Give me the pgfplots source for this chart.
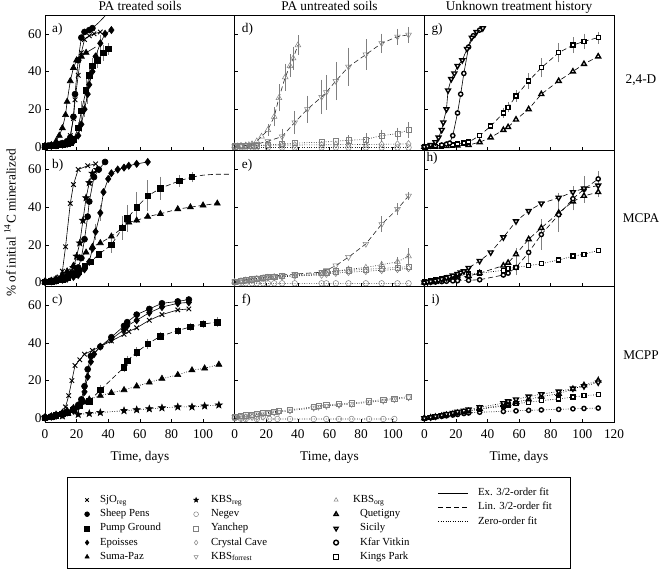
\documentclass[border=0pt]{standalone}
\usepackage{fontspec}
\setmainfont{Liberation Serif}
\usepackage{pgfplots}
\pgfplotsset{compat=1.18}
\newcommand\fs{\fontsize{13.3}{16}\selectfont}
\pgfdeclareplotmark{fstar}{%
  \pgfpathmoveto{\pgfpointpolar{90}{\pgfplotmarksize}}%
  \pgfpathlineto{\pgfpointpolar{126}{0.42\pgfplotmarksize}}%
  \pgfpathlineto{\pgfpointpolar{162}{\pgfplotmarksize}}%
  \pgfpathlineto{\pgfpointpolar{198}{0.42\pgfplotmarksize}}%
  \pgfpathlineto{\pgfpointpolar{234}{\pgfplotmarksize}}%
  \pgfpathlineto{\pgfpointpolar{270}{0.42\pgfplotmarksize}}%
  \pgfpathlineto{\pgfpointpolar{306}{\pgfplotmarksize}}%
  \pgfpathlineto{\pgfpointpolar{342}{0.42\pgfplotmarksize}}%
  \pgfpathlineto{\pgfpointpolar{18}{\pgfplotmarksize}}%
  \pgfpathlineto{\pgfpointpolar{54}{0.42\pgfplotmarksize}}%
  \pgfpathclose\pgfusepathqfillstroke}
\tikzset{
 base/.style={black, line width=0.6pt},
 msjo/.style={black, line width=0.6pt, mark=x, mark size=3.2pt, mark options={solid, line width=0.9pt}},
 msheep/.style={black, line width=0.6pt, mark=*, mark size=3pt, mark options={solid}},
 mpump/.style={black, line width=0.6pt, mark=square*, mark size=2.7pt, mark options={solid}},
 mepo/.style={black, line width=0.6pt, mark=diamond*, mark size=3.6pt, mark options={solid}},
 msuma/.style={black, line width=0.6pt, mark=triangle*, mark size=3.5pt, mark options={solid}},
 mkbsreg/.style={black, line width=0.6pt, mark=fstar, mark size=3.6pt, mark options={solid}},
 mnegev/.style={black!85, line width=0.6pt, mark=o, mark size=2.8pt, mark options={solid, draw=gray, fill=white, line width=0.5pt}},
 myan/.style={black!85, line width=0.6pt, mark=square, mark size=2.6pt, mark options={solid, draw=gray, fill=white, line width=0.5pt}},
 mcry/.style={black!85, line width=0.6pt, mark=diamond, mark size=3.4pt, mark options={solid, draw=gray, fill=white, line width=0.5pt}},
 mkbsf/.style={black!85, line width=0.6pt, mark=triangle, mark size=3.3pt, mark options={solid, rotate=180, draw=gray, fill=white, line width=0.5pt}},
 mkbso/.style={black!85, line width=0.6pt, mark=triangle, mark size=3.3pt, mark options={solid, draw=gray, fill=white, line width=0.5pt}},
 mquet/.style={black, line width=0.6pt, mark=triangle*, mark size=2.8pt, mark options={solid, draw=black, fill=white, line width=1.4pt}},
 msic/.style={black, line width=0.6pt, mark=triangle*, mark size=2.8pt, mark options={solid, rotate=180, draw=black, fill=white, line width=1.4pt}},
 mkfar/.style={black, line width=0.6pt, mark=*, mark size=2.1pt, mark options={solid, draw=black, fill=white, line width=1.4pt}},
 mkings/.style={black, line width=0.6pt, mark=square*, mark size=2.0pt, mark options={solid, draw=black, fill=white, line width=1.4pt}},
 ex/.style={solid},
 lin/.style={dash pattern=on 5pt off 3pt},
 zer/.style={dash pattern=on 0.8pt off 1.6pt},
}
\pgfplotsset{
 panel/.style={scale only axis, width=189.67pt, height=135.67pt, anchor=south west,
   xmin=0, xmax=120, ymin=-2, ymax=70, xtick={0,20,...,120}, ytick={0,20,40,60},
   xticklabels={}, yticklabels={}, tick align=inside, tick pos=left,
   major tick length=3.5pt, axis line style={line width=1pt},
   every tick/.style={black, line width=0.6pt}, clip=false,
   /pgf/number format/assume math mode=true,
   tick label style={font=\fs}, xticklabel style={yshift=-4pt}},
 eb/.style={error bars/y dir=both, error bars/y explicit,
   error bars/error bar style={gray, line width=0.5pt, solid},
   error bars/error mark options={gray, line width=0.5pt, mark size=2.2pt, solid}},
 leg/.style={hide axis, scale only axis, width=1pt, height=1pt, anchor=south west,
   xmin=0, xmax=1, ymin=0, ymax=1, legend cell align=left,
   legend style={at={(axis description cs:0,0)}, anchor=north west, draw=none, fill=none,
     inner sep=0pt, outer sep=0pt, row sep=0pt, font=\fontsize{10.8}{13}\selectfont,
     nodes={inner xsep=1.5pt, inner ysep=1.6pt, text height=8pt, text depth=3pt}},
   legend image code/.code={\draw[##1, mark size=2.4pt] plot coordinates {(0pt,0pt)};}},
}
\newcommand\plab[1]{\node[anchor=north west, inner sep=0pt, font=\fs, xshift=7pt, yshift=-8pt] at (rel axis cs:0,1) {#1};}
\begin{document}
\begin{tikzpicture}
\useasboundingbox (0,0) rectangle (660pt,570pt);
% ---------------- a)
\begin{axis}[panel, at={(45pt,419.33pt)}, yticklabels={0,20,40,60}]
\plab{a)}
\addplot[base, mark=none] coordinates {(30,63)(34,66)(38,69.5)};
\addplot[base, mark=none] coordinates {(26,50)(32,53)};
\addplot[mpump, ex, eb] coordinates {(0,0.3)(4,0.5)(7,0.8)(11,1.2)(14,1.6)(16,2.5)(18,4)(21,10)+-(0,2)(23,19)+-(0,4)(26,30)+-(0,5)(28,38)+-(0,4)(30,43)+-(0,3)(33,46)+-(0,3)(37,50)+-(0,3)(40,52)+-(0,2)};
\addplot[mepo, ex, eb] coordinates {(0,0.3)(4,0.5)(7,0.8)(11,1.2)(14,1.6)(16,2)(18,3)(21,6)(23,12)+-(0,3)(25,20)+-(0,3)(27,28)+-(0,4)(28,33)(30,40)+-(0,3)(32,48)(35,55)+-(0,3)(38,60)(42,62)};
\addplot[msuma, ex] coordinates {(0,0.5)(4,1)(7,3)(9,6)(11,10)(13,17)(14,24)(16,35)(18,42)(20,46)(23,48)(26,50)};
\addplot[msjo, ex] coordinates {(0,0.5)(2,0.7)(4,1)(7,1.3)(9,1.6)(11,2)(14,3)(16,6)(18,15)(19,25)(21,38)(23,50)(25,57)(28,59)(31,60)(35,61)};
\addplot[msheep, ex] coordinates {(0,0.5)(2,0.7)(4,0.9)(7,1.2)(9,1.5)(11,2)(14,3)(16,5)(18,16)(19,28)(21,46)(23,58)(25,61)(28,62)(30,63)};
\end{axis}
% ---------------- b)
\begin{axis}[panel, at={(45pt,283.67pt)}, yticklabels={0,20,40,60}]
\plab{b)}
\addplot[base, lin, mark=none] coordinates {(93,56)(100,57)(108,57.5)(117,57.5)};
\addplot[mpump, lin, eb] coordinates {(0,0.3)(4,0.6)(7,1)(11,1.8)(14,2.5)(18,4)(21,6)(25,9)(29,11)(34,15)(42,20)+-(0,3)(49,29)+-(0,5)(52,34)+-(0,6)(58,40)+-(0,7)(65,46)+-(0,7)(73,50)+-(0,5)(85,54)+-(0,2)(93,56)+-(0,1.5)};
\addplot[msuma, lin] coordinates {(0,0.5)(4,1)(7,2)(11,4)(14,6)(18,9)(22,13)(26,16)(30,19)(35,21)(42,24.5)(49,29)(53,32)(58,33)(65,35)(73,36.5)(84,39)(92,40)(100,41)(109,42)};
\addplot[mepo, ex, eb] coordinates {(0,0.3)(4,0.6)(7,1)(11,1.5)(14,2)(18,3)(21,4)(25,7)(28,11)(30,18)(32,27)+-(0,3)(35,37)+-(0,3)(37,48)(40,55)(42,58)(46,60)(50,61)(53,62)(58,63)(65,64)};
\addplot[mkbsreg, ex] coordinates {(0,0.5)(7,1.5)(11,2.5)(14,3.5)(16,5)(18,8)(20,14)(22,21)(24,33)(26,45)(28,53)(30,58)(33,60)};
\addplot[msheep, ex] coordinates {(0,0.5)(4,1)(7,1.5)(11,2.5)(14,3.5)(18,5)(21,8)(23,13)(25,23)(27,35)(28,43)(31,56)(34,60)(38,64)};
\addplot[msjo, ex] coordinates {(0,0.5)(2,0.8)(4,1.2)(7,2)(9,3)(11,6)(13,19)(16,42)(18,52)(21,60)(27,62)(32,63)};
\end{axis}
% ---------------- c)
\begin{axis}[panel, at={(45pt,148pt)}, yticklabels={0,20,40,60}, xticklabels={0,20,40,60,80,100,{}}]
\plab{c)}
\addplot[mkbsreg, zer] coordinates {(0,0.5)(4,0.8)(11,1.2)(21,2)(28,2.5)(35,3)(50,4)(58,4.5)(66,5)(74,5.5)(84,6)(93,6)(101,6.5)(110,7)};
\addplot[msuma, zer] coordinates {(0,0.5)(4,1)(7,2)(11,3)(14,4)(18,5.5)(21,7)(25,8.5)(28,10)(35,12)(42,13.5)(50,15)(58,17)(66,19)(74,21)(84,23)(93,25.5)(101,26.5)(110,28.5)};
\addplot[mpump, lin, eb] coordinates {(0,0.3)(4,0.8)(7,1.5)(11,2.5)(14,3)(18,4.5)(22,6.5)(28,9)(35,15)+-(0,1.5)(50,27)+-(0,1.5)(52,30.5)+-(0,1.5)(58,35)+-(0,1.5)(65,39.5)+-(0,1.5)(73,43.5)+-(0,1)(84,46.5)+-(0,1)(92,48.5)+-(0,1)(100,50)+-(0,1)(109,51)+-(0,1.5)};
\addplot[mepo, ex] coordinates {(0,0.3)(4,0.8)(7,1.3)(11,2)(14,3)(18,4)(21,6)(23,8)(25,14)(27,22)(29,30)(31,34)(35,38)(42,42)(50,47)(52,49)(58,52)(66,56)(74,59)(84,61)(91,61.5)};
\addplot[msheep, ex] coordinates {(0,0.5)(4,1)(7,1.5)(11,2.5)(14,3.5)(18,5)(21,7)(23,10)(25,17)(27,26)(29,33)(35,38)(42,43)(50,49)(52,51)(58,55)(66,58)(74,61)(84,62)(91,63)};
\addplot[msjo, ex] coordinates {(0,0.5)(2,0.8)(4,1)(7,1.5)(9,2)(11,2.5)(13,6)(15,12)(17,20)(19,28)(22,31)(25,34)(30,36)(42,41)(50,44.5)(53,46)(58,48)(66,52)(74,55)(84,57.5)(91,58)};
\end{axis}
% ---------------- d)
\begin{axis}[panel, at={(234.67pt,419.33pt)}]
\plab{d)}
\addplot[mnegev, zer] coordinates {(0,-0.3)(4,-0.3)(7,-0.3)(11,-0.3)(14,-0.3)(21,-0.3)(30,-0.3)(38,-0.3)(55,-0.3)(64,-0.3)(72,-0.3)(83,-0.3)(93,-0.3)(103,-0.3)(110,-0.3)};
\addplot[mcry, zer] coordinates {(0,0.3)(4,0.5)(7,0.6)(11,0.7)(14,0.8)(21,0.9)(30,1)(38,1)(55,1.1)(64,1.2)(72,1.2)(83,1.3)(93,1.4)(103,1.5)(110,1.6)};
\addplot[myan, zer, eb] coordinates {(0,0.3)(4,0.5)(7,0.6)(11,0.7)(14,0.8)(21,1)(30,1.5)(38,2)(55,2.5)(64,3)(72,3.5)+-(0,1.5)(83,4)+-(0,2)(93,6)+-(0,2)(103,7)+-(0,2)(110,9)+-(0,3)};
\addplot[mkbsf, lin, eb] coordinates {(0,0.3)(4,0.5)(7,0.8)(11,1)(14,1.5)(21,3)(30,5.5)+-(0,3)(38,13)+-(0,5)(46,20)+-(0,6)(55,26.5)+-(0,8)(58,29)+-(0,8)(64,35)+-(0,9)(72,42.5)+-(0,9)(83,49)+-(0,7)(93,55)+-(0,4)(103,58.5)+-(0,3)(110,59.5)+-(0,3)};
\addplot[mkbso, lin, eb] coordinates {(0,0.3)(2,0.4)(4,0.5)(7,0.8)(9,1)(11,1.5)(14,3)(17,5.5)(21,9)+-(0,2)(25,16)+-(0,4)(28,26)+-(0,6)(32,37)+-(0,6)(35,43)+-(0,5)(37,47)+-(0,5)(40,54)+-(0,4)};
\end{axis}
% ---------------- e)
\begin{axis}[panel, at={(234.67pt,283.67pt)}]
\plab{e)}
\addplot[mnegev, zer] coordinates {(0,0)(4,-0.3)(7,-0.4)(11,-0.4)(14,-0.4)(18,-0.4)(21,-0.4)(25,-0.4)(30,-0.4)(38,-0.4)(55,-0.4)(58,-0.4)(64,-0.4)(72,-0.4)(83,-0.4)(93,-0.4)(103,-0.4)(110,-0.4)};
\addplot[mcry, zer] coordinates {(0,0.3)(4,0.7)(7,1)(11,1.4)(14,1.8)(18,2.2)(21,2.5)(25,2.8)(30,3)(38,3.5)(55,4)(58,4.5)(64,5)(72,5.5)(83,6)(93,6.5)(103,7)(110,7.5)};
\addplot[myan, zer] coordinates {(0,0.3)(4,0.8)(7,1.3)(11,1.8)(14,2.2)(18,2.6)(21,2.9)(25,3.2)(30,3.5)(38,4)(55,5)(58,5.5)(64,6)(72,6.5)(83,7)(93,7.5)(103,8)(110,8.5)};
\addplot[mkbso, zer, eb] coordinates {(0,0.3)(4,0.8)(7,1.2)(11,1.6)(14,2)(18,2.4)(21,2.7)(25,3)(30,3.2)(38,3.5)(55,4.5)(58,5)(64,6)(72,7)(83,8)(93,9.5)+-(0,1)(103,11)+-(0,1.5)(110,14)+-(0,3)};
\addplot[mkbsf, lin, eb] coordinates {(0,0.5)(4,1)(7,1.5)(11,2)(14,2.5)(18,3)(21,3.5)(25,3.5)(30,4)(38,4.5)(55,5.5)(58,6.5)(64,9)(72,13.5)(83,20.5)(93,31)+-(0,3)(103,39)+-(0,2)(110,46)+-(0,1)};
\end{axis}
% ---------------- f)
\begin{axis}[panel, at={(234.67pt,148pt)}, xticklabels={0,20,40,60,80,100,{}}]
\plab{f)}
\addplot[mnegev, zer] coordinates {(0,0)(4,-0.3)(7,-0.4)(14,-0.4)(22,-0.4)(27,-0.4)(35,-0.4)(50,-0.4)(58,-0.4)(66,-0.4)(74,-0.4)(85,-0.4)(94,-0.4)(101,-0.4)};
\addplot[mcry, zer] coordinates {(0,0.3)(4,0.4)(7,0.5)(11,0.6)(14,0.6)(18,0.7)};
\addplot[mkbsf, zer] coordinates {(0,0.5)(4,1)(7,1.3)(11,1.7)(14,2)(18,2.3)(21,2.6)(25,3)(28,3.3)(35,4)(50,5.5)(53,6)(58,6.5)(66,7)(74,7.5)(85,8.5)(94,9.3)(101,10)(110,11)};
\addplot[myan, zer] coordinates {(0,0.8)(4,1.2)(7,1.6)(11,2)(14,2.4)(18,2.7)(21,3)(25,3.5)(28,3.8)(35,4.5)(50,6)(53,6.5)(58,7)(66,7.5)(74,8)(85,9)(94,10)(101,10.5)(110,11.5)};
\end{axis}
% ---------------- g)
\begin{axis}[panel, at={(424.33pt,419.33pt)}]
\plab{g)}
\addplot[mquet, lin] coordinates {(0,0)(7,0.2)(14,0.4)(21,0.7)(28,1)(35,2.5)(42,5)(50,9)(53,10.5)(58,14.5)(66,20)(74,28)(85,35)(94,40)(101,44)(110,48)};
\addplot[mkings, lin, eb] coordinates {(0,0)(4,0.2)(7,0.3)(11,0.5)(14,0.7)(18,1)(21,1.5)(25,2)(28,2.5)(35,6)(42,11)(50,18)+-(0,1.5)(53,21)+-(0,1.5)(58,27)+-(0,2)(66,35)+-(0,3)(74,42)+-(0,4)(85,50)+-(0,4)(94,54)+-(0,3)(101,56)+-(0,3)(110,58)+-(0,2)};
\addplot[mkfar, ex] coordinates {(0,0)(4,0.3)(7,0.5)(11,1)(14,1.5)(16,2)(18,6)(21,18)(23,28)(25,39)(28,53)(31,59)(35,62)};
\addplot[msic, ex] coordinates {(0,0)(2,0.3)(4,1)(7,2.5)(9,5)(11,9)(12,13)(14,20)(15,30)(17,36)(19,39)(21,43)(24,46)(27,52)(30,58)(33,61)(37,63)};
\end{axis}
% ---------------- h)
\begin{axis}[panel, at={(424.33pt,283.67pt)}]
\node[anchor=north west, inner sep=0pt, font=\fs, xshift=2pt, yshift=-1pt] at (rel axis cs:0,1) {h)};
\addplot[mkings, zer] coordinates {(0,0.3)(4,0.8)(7,1.3)(11,2)(14,2.5)(18,3)(21,3.5)(28,4.5)(35,5)(50,6.5)(53,7.5)(58,8)(66,9)(74,10)(85,12)(94,14)(101,15)(110,17)};
\addplot[mquet, lin, eb] coordinates {(0,0)(4,0.3)(7,0.6)(11,1)(14,1.5)(18,2)(21,2.5)(28,3.5)(35,5)(50,9)(53,10.5)(58,15)+-(0,2)(66,23)(74,29)+-(0,2)(85,37)+-(0,2)(94,43)(101,46)(110,48)+-(0,1.5)};
\addplot[mkfar, lin, eb] coordinates {(0,0)(4,0.2)(7,0.3)(11,0.5)(14,0.7)(18,0.9)(21,1)(28,1.2)(35,1.5)(50,4)(53,5)(58,8)+-(0,3)(66,16)+-(0,6)(74,25.5)+-(0,7)(85,36)+-(0,8)(94,44.5)+-(0,5)(101,49.5)+-(0,6)(110,55)+-(0,3)};
\addplot[msic, lin, eb] coordinates {(0,0)(2,0.3)(4,0.6)(7,1)(9,1.3)(11,1.8)(14,2.5)(16,3)(18,3.7)(21,4.5)(23,5.3)(25,6)(28,7.8)(35,11.5)(42,16)(50,24)(58,32.5)(66,38)(74,42)(85,45)+-(0,1.5)(94,48)+-(0,2)(101,50)(110,51.5)+-(0,2)};
\end{axis}
% ---------------- i)
\begin{axis}[panel, at={(424.33pt,148pt)}, xticklabels={0,20,40,60,80,100,120}]
\plab{i)}
\addplot[mkfar, zer] coordinates {(0,0)(4,0.3)(7,0.6)(11,1)(14,1.3)(18,1.7)(21,2)(25,2.5)(28,2.8)(35,3.2)(50,3.6)(58,3.9)(66,4.2)(74,4.4)(85,4.7)(94,5)(101,5.2)(110,5.4)};
\addplot[mkings, zer] coordinates {(0,0)(4,0.5)(7,1)(11,1.5)(14,2)(18,2.5)(21,3)(25,3.5)(28,4)(35,4.8)(50,6.5)(53,7)(58,7.7)(66,8.5)(74,9.3)(85,10.3)(94,11.2)(101,12)(110,12.5)};
\addplot[mquet, zer, eb] coordinates {(0,0)(4,0.3)(7,0.7)(11,1.2)(14,1.7)(18,2.2)(21,2.7)(25,3.2)(28,3.7)(35,5)(50,7)(53,7.5)(58,8.5)(66,10)(74,11.5)(85,13)(94,15.5)(101,17.5)(110,20)+-(0,1.5)};
\addplot[msic, zer] coordinates {(0,0)(4,0.5)(7,1)(11,1.6)(14,2.2)(18,2.8)(21,3.4)(25,4)(28,4.6)(35,5.8)(50,8)(53,9)(58,10)(66,11.5)(74,12.8)(85,14.2)(94,15.8)(101,17)(110,19)};
\end{axis}
% ---------------- texts
\node[font=\fs, anchor=base] at (140pt,559.5pt) {PA treated soils};
\node[font=\fs, anchor=base] at (329.5pt,559.5pt) {PA untreated soils};
\node[font=\fs, anchor=base] at (519pt,559.5pt) {Unknown treatment history};
\node[font=\fs, anchor=base] at (140pt,110pt) {Time, days};
\node[font=\fs, anchor=base] at (329.5pt,110pt) {Time, days};
\node[font=\fs, anchor=base] at (519pt,110pt) {Time, days};
\node[font=\fs] at (641pt,490pt) {2,4-D};
\node[font=\fs] at (641pt,352pt) {MCPA};
\node[font=\fs] at (641pt,215pt) {MCPP};
\node[font=\fs, rotate=90] at (10pt,347pt) {\% of initial \textsuperscript{14}C mineralized};
% ---------------- legend
\draw[line width=1pt] (67pt,2pt) rectangle (570pt,93pt);
\begin{axis}[leg, at={(84.7pt,77.1pt)}, legend style={column sep=9pt}]
\addlegendimage{msjo}\addlegendentry{SjO\textsubscript{reg}}
\addlegendimage{msheep}\addlegendentry{Sheep Pens}
\addlegendimage{mpump}\addlegendentry{Pump Ground}
\addlegendimage{mepo}\addlegendentry{Epoisses}
\addlegendimage{msuma}\addlegendentry{Suma-Paz}
\end{axis}
\begin{axis}[leg, at={(193.7pt,77.1pt)}, legend style={column sep=11pt}]
\addlegendimage{mkbsreg}\addlegendentry{KBS\textsubscript{reg}}
\addlegendimage{mnegev}\addlegendentry{Negev}
\addlegendimage{myan}\addlegendentry{Yanchep}
\addlegendimage{mcry}\addlegendentry{Crystal Cave}
\addlegendimage{mkbsf}\addlegendentry{KBS\textsubscript{forrest}}
\end{axis}
\begin{axis}[leg, at={(333.7pt,77.1pt)}, legend style={column sep=13pt}]
\addlegendimage{mkbso}\addlegendentry{KBS\textsubscript{org}}
\addlegendimage{mquet}\addlegendentry{\hspace{7pt}Quetigny}
\addlegendimage{msic}\addlegendentry{\hspace{7pt}Sicily}
\addlegendimage{mkfar}\addlegendentry{\hspace{7pt}Kfar Vitkin}
\addlegendimage{mkings}\addlegendentry{\hspace{7pt}Kings Park}
\end{axis}
\begin{axis}[leg, at={(438pt,84pt)}, legend style={column sep=8pt},
  legend image code/.code={\draw[#1] (0pt,0pt) -- (30pt,0pt);}]
\addlegendimage{base}\addlegendentry{Ex. 3/2-order fit}
\addlegendimage{base, lin}\addlegendentry{Lin. 3/2-order fit}
\addlegendimage{base, zer}\addlegendentry{Zero-order fit}
\end{axis}
\end{tikzpicture}
\end{document}
